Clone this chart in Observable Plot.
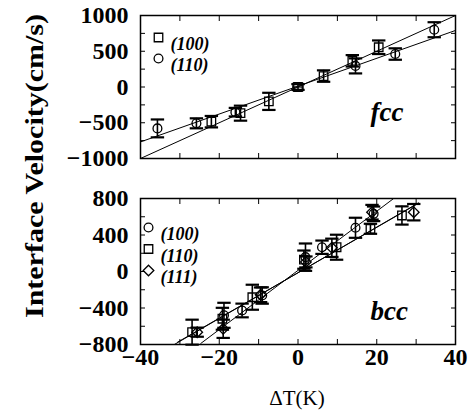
<!DOCTYPE html>
<html>
<head>
<meta charset="utf-8">
<script src="https://cdn.jsdelivr.net/npm/d3@7"></script>
<script src="https://cdn.jsdelivr.net/npm/@observablehq/plot@0.6"></script>
<style>
  html, body { margin: 0; padding: 0; background: white; }
  #wrap { position: relative; width: 473px; height: 415px; font-family: "Liberation Serif", Tinos, "Times New Roman", Times, serif; color: black; }
  #top, #bot { position: absolute; left: 0; }
  #top { top: 0; }
  #bot { top: 175px; }
  #ytitle { position: absolute; left: 35px; top: 166px; transform: translate(-50%, -50%) rotate(-90deg) scaleX(1.2); font-weight: bold; font-size: 25px; white-space: nowrap; }
  #xtitle { position: absolute; left: 297px; top: 398px; transform: translate(-50%, -50%); font-size: 21px; white-space: nowrap; }
</style>
</head>
<body>
<div id="wrap">
  <div id="top"></div>
  <div id="bot"></div>
  <div id="ytitle">Interface Velocity(cm/s)</div>
  <div id="xtitle">ΔT(K)</div>
</div>
<script>
// ---- fcc panel data ----
const fcc100X = [-22, -14.6, -7.4, 0, 6.5, 13.8, 20.5];
const fcc100Y = [-485, -366, -201, 0, 153, 366, 556];
const fcc100E = [80, 105, 120, 40, 80, 80, 95];
const fcc100XE = [0, 0, 0, 1.3, 0, 0, 0];
const fcc110X = [-35.7, -25.8, -15.9, 14.6, 24.7, 34.6];
const fcc110Y = [-579, -508, -352, 295, 461, 801];
const fcc110E = [125, 70, 60, 105, 80, 105];
const fccFit100 = [[-40, -1000], [40, 1000]];
const fccFit110 = [[-40, -768], [40, 791]];

// ---- bcc panel data ----
const bcc100X = [-18.8, -14.2, -9.1, 1.9, 6.1, 14.6, 19.2];
const bcc100Y = [-480, -427, -263, 157, 266, 479, 632];
const bcc100E = [137, 75, 90, 150, 73, 110, 80];
const bcc110X = [-26.9, -19.2, -11.6, 1.5, 9.8, 18.4, 26.4];
const bcc110Y = [-665, -518, -282, 130, 266, 468, 614];
const bcc110E = [137, 120, 137, 100, 137, 55, 100];
const bcc111X = [-25.6, -19, -9.5, 2, 8.6, 18.8, 29.4];
const bcc111Y = [-665, -628, -255, 105, 260, 650, 650];
const bcc111E = [50, 100, 80, 60, 100, 80, 90];
const bccFitA = [[-24.7, -789], [24.2, 797]];
const bccFitB = [[-30.6, -775], [30.3, 740]];
const bccFitC = [[-31.4, -800], [30.6, 752]];

// ---- axis ticks ----
const xTickLabels = [-40, -20, 0, 20, 40];
const xTickMarks = d3.range(-40, 41, 10);
const fccYLabels = [-1000, -500, 0, 500, 1000];
const fccYMarks = d3.range(-1000, 1001, 250);
const bccYLabels = [-800, -400, 0, 400, 800];
const bccYMarks = d3.range(-800, 801, 200);

const fccLegend = ["(100)", "(110)"];
const bccLegend = ["(100)", "(110)", "(111)"];

const fontStack = "\"Liberation Serif\", Tinos, \"Times New Roman\", Times, serif";
const fmt = d3.format("d");

function rows(X, Y, E, XE) {
  return X.map((x, i) => ({x, y: Y[i], e: E[i], xe: XE ? XE[i] : 0}));
}

const capW = 1.7;
function seriesMarks(data, symbol) {
  const xbars = data.filter(d => d.xe > 0);
  return [
    Plot.ruleX(data, {x: "x", y1: d => d.y - d.e, y2: d => d.y + d.e, strokeWidth: 1.6}),
    Plot.link(data, {x1: d => d.x - capW, x2: d => d.x + capW, y1: d => d.y + d.e, y2: d => d.y + d.e, strokeWidth: 2.2}),
    Plot.link(data, {x1: d => d.x - capW, x2: d => d.x + capW, y1: d => d.y - d.e, y2: d => d.y - d.e, strokeWidth: 2.2}),
    Plot.ruleY(xbars, {y: "y", x1: d => d.x - d.xe, x2: d => d.x + d.xe, strokeWidth: 1.2}),
    Plot.link(xbars, {x1: d => d.x - d.xe, x2: d => d.x - d.xe, y1: d => d.y - 60, y2: d => d.y + 60, strokeWidth: 1.2}),
    Plot.link(xbars, {x1: d => d.x + d.xe, x2: d => d.x + d.xe, y1: d => d.y - 60, y2: d => d.y + 60, strokeWidth: 1.2}),
    Plot.dot(data, {x: "x", y: "y", symbol, r: symbol === "circle" ? 4.4 : 4.8, stroke: "black", fill: "none", strokeWidth: 1.3})
  ];
}

function axesMarks(yLabels, yMarks, showXLabels) {
  const m = [
    Plot.axisX({anchor: "bottom", ticks: xTickMarks, tickSize: -5, fill: "none"}),
    Plot.axisX({anchor: "top", ticks: xTickMarks, tickSize: -5, fill: "none"}),
    Plot.axisY({anchor: "left", ticks: yMarks, tickSize: -5, fill: "none"}),
    Plot.axisY({anchor: "right", ticks: yMarks, tickSize: -5, fill: "none"}),
    Plot.axisY({anchor: "left", ticks: yLabels, tickSize: 0, tickPadding: 12, tickFormat: fmt, label: null})
  ];
  if (showXLabels) m.push(Plot.axisX({anchor: "bottom", ticks: xTickLabels, tickSize: 0, tickPadding: 3, tickFormat: fmt, label: null}));
  return m;
}

function legendMarks(labels, symbols, dx, dy0, step, tdx) {
  const m = [];
  labels.forEach((lab, i) => {
    m.push(Plot.dot([lab], {frameAnchor: "top-left", dx, dy: dy0 + i * step, symbol: symbols[i], r: symbols[i] === "circle" ? 4.4 : 4.8, stroke: "black", fill: "none", strokeWidth: 1.3}));
    m.push(Plot.text([lab], {frameAnchor: "top-left", dx: tdx, dy: dy0 + i * step, text: d => d, textAnchor: "start", fontSize: 18, fontStyle: "italic", fontWeight: "bold"}));
  });
  return m;
}

const svgStyle = {fontFamily: fontStack, fontWeight: "bold", fontSize: "24px", background: "white", color: "black", overflow: "visible"};

const topPlot = Plot.plot({
  width: 473, height: 175,
  marginLeft: 140, marginRight: 18, marginTop: 15, marginBottom: 17,
  style: svgStyle,
  x: {domain: [-40, 40]},
  y: {domain: [-1000, 1000]},
  marks: [
    ...axesMarks(fccYLabels, fccYMarks, false),
    Plot.line(fccFit100, {x: d => d[0], y: d => d[1], strokeWidth: 1, clip: true}),
    Plot.line(fccFit110, {x: d => d[0], y: d => d[1], strokeWidth: 1, clip: true}),
    ...seriesMarks(rows(fcc100X, fcc100Y, fcc100E, fcc100XE), "square"),
    ...seriesMarks(rows(fcc110X, fcc110Y, fcc110E), "circle"),
    ...legendMarks(fccLegend, ["square", "circle"], 18, 22, 21, 30),
    Plot.text(["fcc"], {frameAnchor: "top-left", dx: 230, dy: 86, text: d => d, fontSize: 27, fontStyle: "italic", fontWeight: "bold"}),
    Plot.frame({strokeWidth: 1.5})
  ]
});
document.getElementById("top").append(topPlot);

const botPlot = Plot.plot({
  width: 473, height: 240,
  marginLeft: 140, marginRight: 18, marginTop: 23, marginBottom: 71,
  style: svgStyle,
  x: {domain: [-40, 40]},
  y: {domain: [-800, 800]},
  marks: [
    ...axesMarks(bccYLabels, bccYMarks, true),
    Plot.line(bccFitA, {x: d => d[0], y: d => d[1], strokeWidth: 1, clip: true}),
    Plot.line(bccFitB, {x: d => d[0], y: d => d[1], strokeWidth: 1, clip: true}),
    Plot.line(bccFitC, {x: d => d[0], y: d => d[1], strokeWidth: 1, clip: true}),
    ...seriesMarks(rows(bcc100X, bcc100Y, bcc100E), "circle"),
    ...seriesMarks(rows(bcc110X, bcc110Y, bcc110E), "square"),
    ...seriesMarks(rows(bcc111X, bcc111Y, bcc111E), "diamond2"),
    ...legendMarks(bccLegend, ["circle", "square", "diamond2"], 8, 29, 21.5, 20),
    Plot.text(["bcc"], {frameAnchor: "top-left", dx: 230, dy: 102, text: d => d, fontSize: 27, fontStyle: "italic", fontWeight: "bold"}),
    Plot.frame({strokeWidth: 1.5})
  ]
});
document.getElementById("bot").append(botPlot);
</script>
</body>
</html>
